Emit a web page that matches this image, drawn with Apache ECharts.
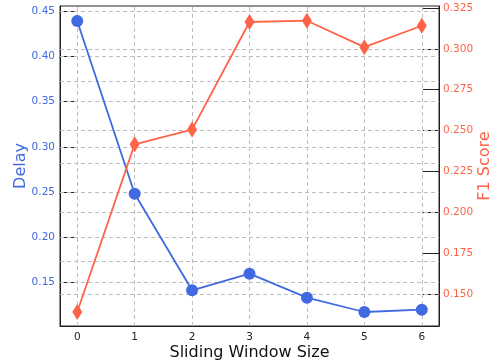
<!DOCTYPE html>
<html>
<head>
<meta charset="utf-8">
<script src="https://cdn.jsdelivr.net/npm/echarts@6/dist/echarts.min.js"></script>
<style>html,body{margin:0;padding:0;background:#fff;}#chart{width:498px;height:364px;}</style>
</head>
<body>
<div id="chart"></div>
<script>
const windowSizes = [0, 1, 2, 3, 4, 5, 6];
const delayValues = [0.4393, 0.2482, 0.1412, 0.1596, 0.1331, 0.1172, 0.1198];
const f1Values = [0.139, 0.2416, 0.2506, 0.3164, 0.3172, 0.301, 0.3141];
const delayTicks = [0.15, 0.20, 0.25, 0.30, 0.35, 0.40, 0.45];
const f1Ticks = [0.150, 0.175, 0.200, 0.225, 0.250, 0.275, 0.300, 0.325];

const BLUE = '#4169E1';
const RED = '#FF6347';
const FONT = 'DejaVu Sans';
const gridStyle = { color: '#bdbdbd', width: 1, type: [4, 3] };

const chart = echarts.init(document.getElementById('chart'), null, { renderer: 'canvas' });

const markBase = { silent: true, symbol: 'none', label: { show: false }, emphasis: { disabled: true }, lineStyle: gridStyle, z: 1, animation: false };

chart.setOption({
  animation: false,
  grid: { left: 60, right: 59, top: 6, bottom: 38, containLabel: false, outerBoundsMode: 'none', show: true, borderColor: '#222', borderWidth: 1, backgroundColor: 'transparent' },
  xAxis: {
    type: 'value', min: -0.3, max: 6.3,
    name: 'Sliding Window Size', nameLocation: 'middle', nameGap: 19, nameMoveOverlap: false,
    nameTextStyle: { fontFamily: FONT, fontSize: 16, color: '#111' },
    axisLine: { show: true, onZero: false, lineStyle: { color: '#222' } },
    axisTick: { show: true, inside: true, length: 4, lineStyle: { color: '#222' }, customValues: windowSizes },
    axisLabel: { customValues: windowSizes, fontFamily: FONT, fontSize: 10.5, color: '#222', margin: 6, formatter: v => String(v) },
    splitLine: { show: false }
  },
  yAxis: [
    {
      type: 'value', position: 'left', min: 0.1017, max: 0.456,
      name: 'Delay', nameLocation: 'middle', nameGap: 31, nameRotate: 90, nameMoveOverlap: false,
      nameTextStyle: { fontFamily: FONT, fontSize: 16, color: BLUE },
      axisLine: { show: true, onZero: false, lineStyle: { color: '#222' } },
      axisTick: { show: true, inside: true, length: 16, lineStyle: { color: '#222' }, customValues: delayTicks },
      axisLabel: { customValues: delayTicks, fontFamily: FONT, fontSize: 10.5, color: BLUE, margin: 5, formatter: v => v.toFixed(2) },
      splitLine: { show: false }
    },
    {
      type: 'value', position: 'right', min: 0.1304, max: 0.3262,
      name: 'F1 Score', nameLocation: 'middle', nameGap: 38, nameRotate: 90, nameMoveOverlap: false,
      nameTextStyle: { fontFamily: FONT, fontSize: 16, color: RED },
      axisLine: { show: true, onZero: false, lineStyle: { color: '#222' } },
      axisTick: { show: true, inside: true, length: 16, lineStyle: { color: '#222' }, customValues: f1Ticks },
      axisLabel: { customValues: f1Ticks, fontFamily: FONT, fontSize: 10.5, color: RED, margin: 4, formatter: v => v.toFixed(3) },
      splitLine: { show: false }
    }
  ],
  series: [
    {
      name: 'Delay', type: 'line', yAxisIndex: 0,
      data: windowSizes.map((x, i) => [x, delayValues[i]]),
      symbol: 'circle', symbolSize: 12,
      lineStyle: { color: BLUE, width: 1.8 },
      itemStyle: { color: BLUE },
      z: 3,
      markLine: Object.assign({}, markBase, {
        data: delayTicks.map(v => ({ yAxis: v })).concat(windowSizes.map(x => ({ xAxis: x })))
      })
    },
    {
      name: 'F1 Score', type: 'line', yAxisIndex: 1,
      data: windowSizes.map((x, i) => [x, f1Values[i]]),
      symbol: 'diamond', symbolSize: [10, 16],
      lineStyle: { color: RED, width: 1.8 },
      itemStyle: { color: RED },
      z: 4,
      markLine: Object.assign({}, markBase, {
        data: f1Ticks.map(v => ({ yAxis: v }))
      })
    }
  ]
});
</script>
</body>
</html>
